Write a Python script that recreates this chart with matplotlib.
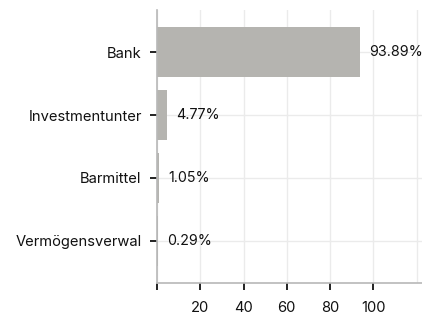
import matplotlib
matplotlib.use("Agg")
import matplotlib.pyplot as plt

categories = ["Bank", "Investmentunter", "Barmittel", "Vermögensverwal"]
values = [93.89, 4.77, 1.05, 0.29]
labels = ["93.89%", "4.77%", "1.05%", "0.29%"]
xticks = [0, 20, 40, 60, 80, 100]
xticklabels = ["", "20", "40", "60", "80", "100"]

plt.rcParams['font.family'] = ['Inter', 'DejaVu Sans']
FS = 10.6

fig = plt.figure(figsize=(4.22, 3.15), dpi=100)
ax = fig.add_axes([157/422, 1-283/315, (422-157)/422, (283-10)/315])

y = list(range(len(categories)))
ax.barh(y, values, height=0.8, color="#b5b4b0", zorder=2)
for yi, v, lab in zip(y, values, labels):
    ax.text(v + 4.2, yi, lab, va="center", ha="left", fontsize=FS - 0.3, color="#111111", zorder=3)

ax.set_yticks(y)
ax.set_yticklabels(categories, fontsize=FS, color="#111111")
ax.set_ylim(3.67, -0.67)
ax.set_xlim(0, 122.5)
ax.set_xticks(xticks)
ax.set_xticklabels(xticklabels, fontsize=FS, color="#111111")
for gx in [0, 20, 40, 60, 80, 100, 120]:
    ax.axvline(gx, color="#ebebeb", lw=1, zorder=0)
for yi in y:
    ax.axhline(yi, color="#ebebeb", lw=1, zorder=0)

for s in ["top", "right"]:
    ax.spines[s].set_visible(False)
for s in ["left", "bottom"]:
    ax.spines[s].set_color("#b8b8b8")
    ax.spines[s].set_linewidth(1.2)
ax.tick_params(axis="both", length=5, width=1.4, color="#222222")
ax.tick_params(axis="y", pad=6)
ax.tick_params(axis="x", pad=8)

fig.savefig("out.png", dpi=100)
